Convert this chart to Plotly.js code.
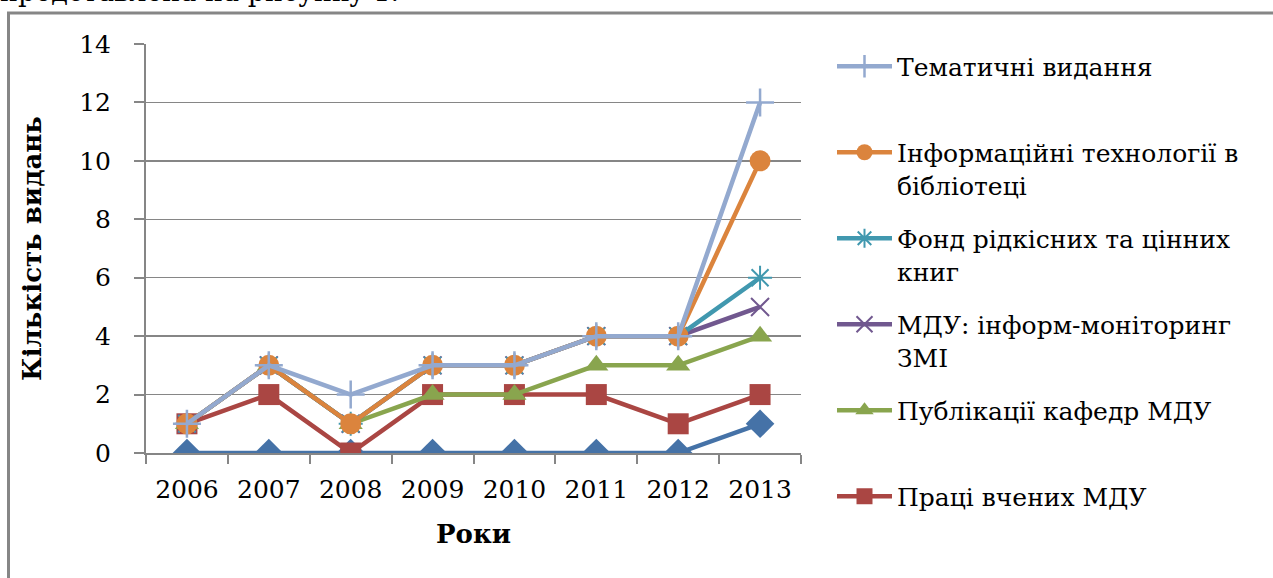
<!DOCTYPE html>
<html>
<head>
<meta charset="utf-8">
<script src="https://cdn.plot.ly/plotly-3.0.1.min.js"></script>
<style>
html,body{margin:0;padding:0;background:#fff;}
#chart{width:1273px;height:578px;}
</style>
</head>
<body>
<div id="chart"></div>
<script>
// ---- data ----
const years = ["2006","2007","2008","2009","2010","2011","2012","2013"];
const nameBase = "Ряд 7";
const valBase = [0,0,0,0,0,0,0,1];
const namePraci = "Праці вчених МДУ";
const valPraci = [1,2,0,2,2,2,1,2];
const namePubl = "Публікації кафедр МДУ";
const valPubl = [1,3,1,2,2,3,3,4];
const nameMDU = "МДУ: інформ-моніторинг<br>ЗМІ";
const valMDU = [1,3,1,3,3,4,4,5];
const nameFond = "Фонд рідкісних та цінних<br>книг";
const valFond = [1,3,1,3,3,4,4,6];
const nameIT = "Інформаційні технології в<br>бібліотеці";
const valIT = [1,3,1,3,3,4,4,10];
const nameTem = "Тематичні видання";
const valTem = [1,3,2,3,3,4,4,12];
const yTicks = [0,2,4,6,8,10,12,14];

// ---- layout geometry (pixels) ----
const W = 1273, H = 578;
const L = 146, R = 801, T = 43.5, B = 453;
const px = x => (x - L) / (R - L);
const py = y => (B - y) / (B - T);

const FONT = "DejaVu Serif, Liberation Serif, serif";

function tr(name, y, color, symbol, size, mline, rank, extra) {
  return Object.assign({
    x: years, y: y, name: name, type: "scatter", mode: "lines+markers",
    line: {color: color, width: 4.5},
    marker: {symbol: symbol, size: size, color: color,
             line: {color: color, width: mline}},
    legendgroup: "g" + rank, legendrank: rank * 100
  }, extra || {});
}

const traces = [
  tr(nameBase, valBase, "#4572A7", "diamond", 22, 0, 7, {showlegend: false}),
  tr(namePraci + "<br> ", valPraci, "#AA4643", "square", 21, 0, 6),
  tr(namePubl + "<br> ", valPubl, "#89A54E", "triangle-up", 21, 0, 5),
  tr(nameMDU, valMDU, "#71588F", "x-thin-open", 18, 2, 4),
  tr(nameFond, valFond, "#4198AF", "asterisk-open", 20, 2, 3),
  tr(nameIT, valIT, "#DB843D", "circle", 21, 0, 2),
  tr(nameTem + "<br> ", valTem, "#93A9CF", "cross-thin-open", 20, 2.5, 1)
];

const layout = {
  width: W, height: H,
  margin: {l: L, r: W - R, t: T, b: H - B, pad: 0},
  paper_bgcolor: "#ffffff", plot_bgcolor: "#ffffff",
  font: {family: FONT, size: 26, color: "#000"},
  showlegend: true,
  xaxis: {
    type: "category", range: [-0.5, 7.5],
    tickson: "boundaries", ticks: "outside", ticklen: 9, tickwidth: 2, tickcolor: "#868686",
    showline: true, linecolor: "#868686", linewidth: 2,
    showgrid: false, zeroline: false,
    tickfont: {family: FONT, size: 25},
    ticklabelstandoff: 13,
    title: {text: "<b>Роки</b>", font: {family: FONT, size: 26}, standoff: 22},
    fixedrange: true
  },
  yaxis: {
    range: [0, 14], tickvals: yTicks, ticktext: yTicks.map(String),
    ticks: "outside", ticklen: 10, tickwidth: 2, tickcolor: "#868686",
    showline: true, linecolor: "#868686", linewidth: 2,
    showgrid: true, gridcolor: "#868686", gridwidth: 1.5,
    zeroline: false,
    tickfont: {family: FONT, size: 25},
    ticklabelstandoff: 18,
    title: {text: "<b>Кількість видань</b>", font: {family: FONT, size: 26}, standoff: 30},
    fixedrange: true
  },
  legend: {
    x: px(832), xanchor: "left", y: py(43), yanchor: "top",
    traceorder: "grouped", valign: "top",
    font: {family: FONT, size: 25},
    itemwidth: 55, tracegroupgap: 18, maxheight: 570,
    bgcolor: "rgba(0,0,0,0)", borderwidth: 0
  },
  shapes: [
    {type: "line", xref: "paper", yref: "paper", x0: px(8.5), x1: px(8.5), y0: py(12), y1: py(580),
     line: {color: "#868686", width: 3}},
    {type: "line", xref: "paper", yref: "paper", x0: px(7), x1: px(1275), y0: py(12.5), y1: py(12.5),
     line: {color: "#868686", width: 3}}
  ],
  annotations: [
    {text: "представлена на рисунку 1.", xref: "paper", yref: "paper",
     x: px(-2), xanchor: "left", y: py(-9), yanchor: "middle", showarrow: false,
     font: {family: FONT, size: 27, color: "#000"}}
  ]
};

Plotly.newPlot("chart", traces, layout, {displayModeBar: false, staticPlot: true});
</script>
</body>
</html>
